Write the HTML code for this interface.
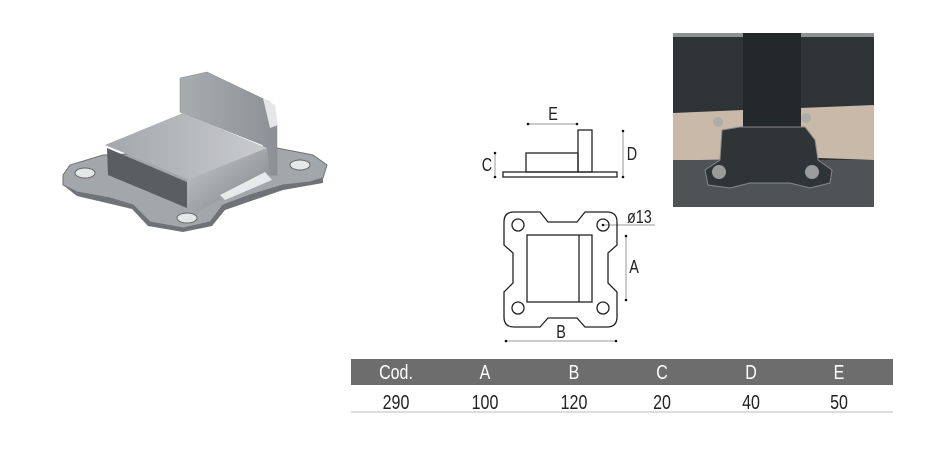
<!DOCTYPE html>
<html><head><style>
body{margin:0;background:#fff;width:926px;height:455px;overflow:hidden;position:relative;font-family:"Liberation Sans",sans-serif}
.t{position:absolute;font-size:20px;line-height:22px;transform:scaleX(0.8);transform-origin:center;text-align:center;width:80px;color:#222}
</style></head><body>
<svg width="926" height="455" style="position:absolute;left:0;top:0">
<defs>
<linearGradient id="m1" x1="0" y1="0" x2="1" y2="1"><stop offset="0" stop-color="#c8cacd"/><stop offset="1" stop-color="#7c7f84"/></linearGradient>
<linearGradient id="m2" x1="0" y1="0" x2="1" y2="0"><stop offset="0" stop-color="#a9acb0"/><stop offset="1" stop-color="#8d9095"/></linearGradient>
<linearGradient id="m3" x1="0" y1="0" x2="1" y2="0"><stop offset="0" stop-color="#a4a7ab"/><stop offset="1" stop-color="#c9cbce"/></linearGradient>
</defs>
<polygon points="63,175 70,165 103,155 277,148 313,155 327,165 323,178 310,182 283,185 250,195 223,205 210,222 183,228 150,222 133,205 110,198 77,192 63,185" fill="#a3a6aa" stroke="#6e7176" stroke-width="1"/>
<polygon points="63,185 77,192 110,198 133,205 150,222 183,228 210,222 223,205 250,195 283,185 310,182 323,178 323,183 283,190 225,210 212,226 183,232 148,226 132,209 77,196" fill="#6f7277"/>
<polygon points="180,78 207,72 270,102 277,125 277,175 267,175 263,145 180,112" fill="url(#m2)" stroke="#888" stroke-width="0.5"/>
<polygon points="263,98 275,105 278,125 270,128" fill="#e4e6e8"/>
<polygon points="105,145 183,113 267,148 190,180" fill="url(#m3)"/>
<polygon points="107,148 187,182 187,208 108,175" fill="#5a5d62"/>
<polygon points="187,180 267,148 270,175 223,198 197,212 187,208" fill="url(#m1)"/>
<polygon points="220,195 265,172 272,180 225,200" fill="#e8e9ea"/>
<ellipse cx="85" cy="173" rx="10" ry="5" fill="#e6e7e8" stroke="#666"/>
<ellipse cx="300" cy="165" rx="10" ry="5" fill="#e6e7e8" stroke="#666"/>
<ellipse cx="187" cy="218" rx="10" ry="5" fill="#e6e7e8" stroke="#666"/>
<rect x="673" y="33" width="201" height="174" fill="#2e3335"/>
<rect x="673" y="33" width="201" height="4" fill="#8c9194"/>
<polygon points="673,113 743,110 800,108 874,105 874,160 820,158 700,160 673,163" fill="#c9b9a8"/>
<rect x="673" y="160" width="201" height="47" fill="#505356"/>
<rect x="743" y="33" width="58" height="100" fill="#23292b"/>
<polygon points="705,170 720,160 722,130 740,127 805,127 815,140 818,160 832,170 830,183 810,188 790,183 750,183 730,188 708,185" fill="#2f3436" stroke="#888" stroke-width="1"/>
<circle cx="719" cy="172" r="7" fill="#9a9c9c"/><circle cx="812" cy="172" r="7" fill="#9a9c9c"/>
<circle cx="718" cy="122" r="5" fill="#b0aca6"/><circle cx="806" cy="118" r="5" fill="#b0aca6"/>
<g fill="none" stroke="#222" stroke-width="1.3">
<rect x="503" y="172" width="114" height="5"/>
<rect x="526" y="153" width="52" height="19"/>
<rect x="578" y="130" width="14" height="42"/>
</g>
<g stroke="#999" stroke-width="1">
<line x1="528" y1="124" x2="577" y2="124"/>
<line x1="495" y1="153" x2="495" y2="177"/>
<line x1="623" y1="131" x2="623" y2="177"/>
<line x1="626" y1="236" x2="626" y2="300"/>
<line x1="506" y1="341" x2="616" y2="341"/>
<line x1="604" y1="225" x2="655" y2="225"/>
</g>
<g fill="#111">
<circle cx="528" cy="124" r="1.3"/><circle cx="577" cy="124" r="1.3"/>
<circle cx="495" cy="153" r="1.3"/><circle cx="495" cy="177" r="1.3"/>
<circle cx="623" cy="131" r="1.3"/><circle cx="623" cy="177" r="1.3"/>
<circle cx="626" cy="236" r="1.3"/><circle cx="626" cy="300" r="1.3"/>
<circle cx="506" cy="341" r="1.3"/><circle cx="616" cy="341" r="1.3"/>
<circle cx="603" cy="225" r="1.3"/>
</g>
<path d="M514,212 L540,212 L548,222 L577,222 L585,212 L607,212 Q617,212 617,222 L617,245 L608,253 L608,283 L617,292 L617,317 Q617,327 607,327 L585,327 L577,318 L548,318 L540,327 L514,327 Q504,327 504,317 L504,292 L513,283 L513,253 L504,245 L504,222 Q504,212 514,212 Z" fill="none" stroke="#222" stroke-width="1.3"/>
<g fill="none" stroke="#222" stroke-width="1.3">
<circle cx="518" cy="225" r="6"/><circle cx="603" cy="225" r="6"/>
<circle cx="518" cy="308" r="6"/><circle cx="603" cy="308" r="6"/>
<rect x="527" y="235" width="65" height="67"/>
<line x1="579" y1="235" x2="579" y2="302"/>
</g>
<rect x="351" y="359" width="542" height="26" fill="#6d6d6d"/>
<line x1="351" y1="412" x2="893" y2="412" stroke="#bbb" stroke-width="1"/>
</svg>
<div class="t" style="left:513px;top:103px;font-size:18px">E</div>
<div class="t" style="left:447px;top:154px;font-size:18px">C</div>
<div class="t" style="left:592px;top:143px;font-size:18px">D</div>
<div class="t" style="top:206px;text-align:left;width:40px;left:627px;transform-origin:left;font-size:18px">ø13</div>
<div class="t" style="left:594px;top:256px;font-size:18px">A</div>
<div class="t" style="left:521px;top:321px;font-size:18px">B</div>
<div class="t" style="left:356px;top:362px;color:#fff">Cod.</div>
<div class="t" style="left:445px;top:362px;color:#fff">A</div>
<div class="t" style="left:534px;top:362px;color:#fff">B</div>
<div class="t" style="left:622px;top:362px;color:#fff">C</div>
<div class="t" style="left:711px;top:362px;color:#fff">D</div>
<div class="t" style="left:799px;top:362px;color:#fff">E</div>
<div class="t" style="left:356px;top:392px">290</div>
<div class="t" style="left:445px;top:392px">100</div>
<div class="t" style="left:534px;top:392px">120</div>
<div class="t" style="left:622px;top:392px">20</div>
<div class="t" style="left:711px;top:392px">40</div>
<div class="t" style="left:799px;top:392px">50</div>
</body></html>
